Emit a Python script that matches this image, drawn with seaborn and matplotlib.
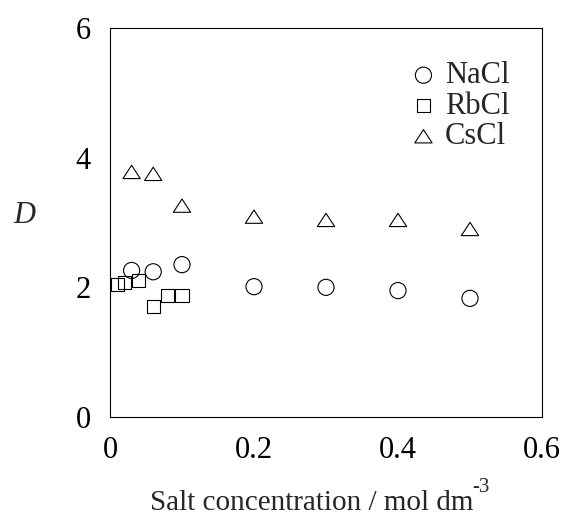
import numpy as np
import pandas as pd
import matplotlib
matplotlib.use("Agg")
import matplotlib.pyplot as plt
from matplotlib.path import Path
import seaborn as sns

# Diffusion data D versus salt concentration (mol dm^-3)
nacl_conc = [0.03, 0.06, 0.10, 0.20, 0.30, 0.40, 0.50]
nacl_D = [2.26, 2.24, 2.35, 2.01, 2.00, 1.95, 1.83]

rbcl_conc = [0.01, 0.02, 0.04, 0.06, 0.08, 0.10]
rbcl_D = [2.05, 2.08, 2.11, 1.70, 1.87, 1.88]

cscl_conc = [0.03, 0.06, 0.10, 0.20, 0.30, 0.40, 0.50]
cscl_D = [3.78, 3.75, 3.26, 3.09, 3.04, 3.04, 2.90]

x_ticks = [0, 0.2, 0.4, 0.6]
x_tick_labels = ["0", "0.2", "0.4", "0.6"]
y_ticks = [0, 2, 4, 6]
y_tick_labels = ["0", "2", "4", "6"]

sns.set_theme(style="white")
plt.rcParams["font.family"] = ["Liberation Serif", "DejaVu Serif"]

FS = 22

# flattened open triangle
tri = Path([(-0.65, -0.5), (0.65, -0.5), (0.0, 0.5), (-0.65, -0.5)],
           [Path.MOVETO, Path.LINETO, Path.LINETO, Path.CLOSEPOLY])

series = [
    ("NaCl", nacl_conc, nacl_D, "o", 135),
    ("RbCl", rbcl_conc, rbcl_D, "s", 90),
    ("CsCl", cscl_conc, cscl_D, tri, 155),
]

fig = plt.figure(figsize=(5.63, 5.17), dpi=100)
ax = fig.add_axes([110 / 563, 1 - 417 / 517, 432 / 563, 389 / 517])

for name, xs, ys, mk, size in series:
    df = pd.DataFrame({"conc": xs, "D": ys})
    sns.scatterplot(data=df, x="conc", y="D", marker=mk, s=size,
                    facecolor="none", edgecolor="black", linewidth=0.8,
                    label=name, ax=ax, clip_on=False)

ax.set_xlim(0, 0.6)
ax.set_ylim(0, 6)
ax.set_xticks(x_ticks)
ax.set_xticklabels(x_tick_labels)
ax.set_yticks(y_ticks)
ax.set_yticklabels(y_tick_labels)
ax.set_xlabel("")
ax.set_ylabel("")
ax.tick_params(direction="in", length=5, width=0.8, labelsize=FS, pad=14,
               colors="black")
for sp in ax.spines.values():
    sp.set_visible(True)
    sp.set_color("black")
    sp.set_linewidth(0.8)

leg = ax.legend(loc="upper left", bbox_to_anchor=(0.669, 0.946), frameon=False,
                fontsize=FS, handlelength=0.8, handletextpad=0.3,
                labelspacing=0.05, borderaxespad=0)
for h in leg.legend_handles:
    h.set_facecolor("none")
    h.set_edgecolor("black")

fig.text(24 / 563, 1 - 215 / 517, "D", fontsize=FS, style="italic",
         ha="center", va="center")

xl = fig.text(150 / 563, 1 - 510 / 517, "Salt concentration / mol dm",
              fontsize=21, ha="left", va="baseline")
fig.canvas.draw()
bb = xl.get_window_extent()
fig.text(bb.x1 / fig.bbox.width - 0.002, 1 - 492 / 517, "-3",
         fontsize=15, ha="left", va="baseline")

fig.savefig("out.png", dpi=100)
